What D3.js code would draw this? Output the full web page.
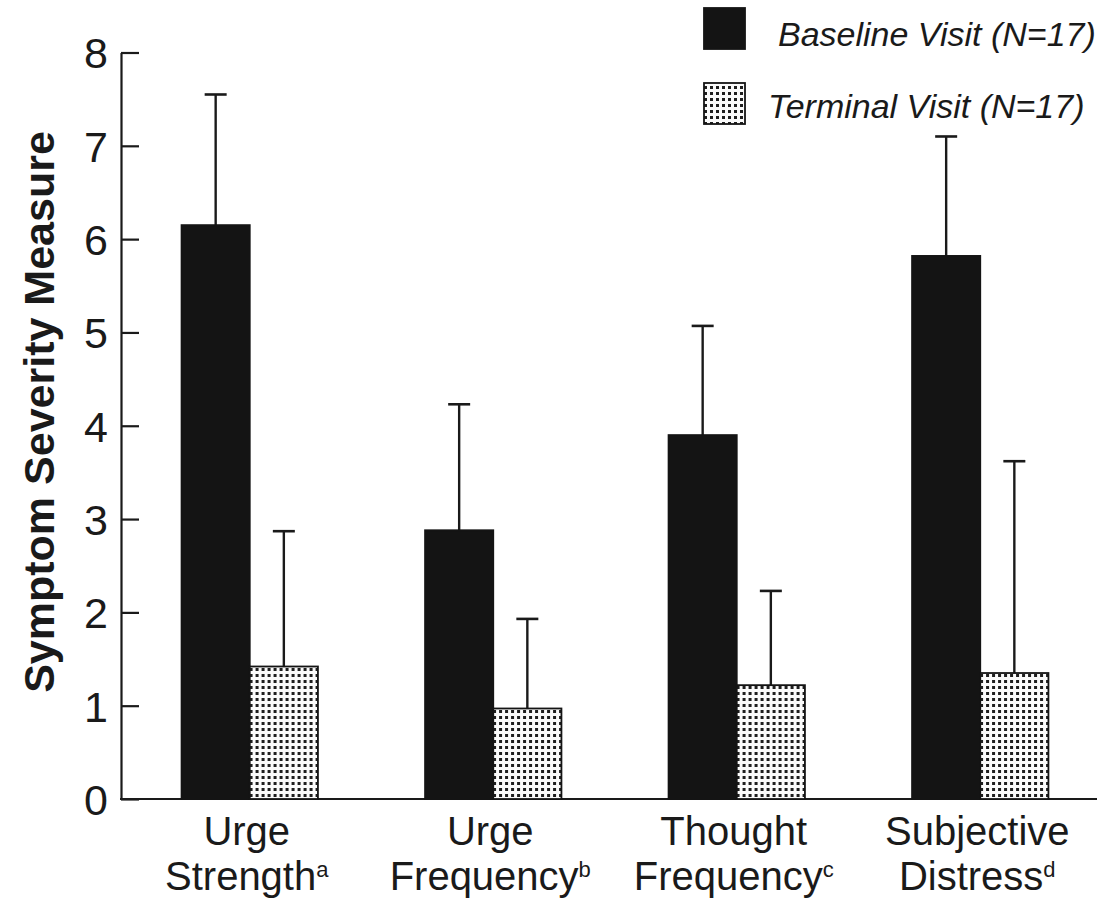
<!DOCTYPE html>
<html>
<head>
<meta charset="utf-8">
<script src="https://cdn.jsdelivr.net/npm/d3@7"></script>
<style>
  body { margin: 0; background: #fff; }
  svg { display: block; }
  text { font-family: "Liberation Sans", Arial, Helvetica, sans-serif; fill: #1a1a1a; }
</style>
</head>
<body>
<svg id="chart" width="1101" height="905"></svg>
<script>
// ---- data ----
const categories = ["Urge Strength", "Urge Frequency", "Thought Frequency", "Subjective Distress"];
const labelLine1 = ["Urge", "Urge", "Thought", "Subjective"];
const labelLine2 = ["Strength", "Frequency", "Frequency", "Distress"];
const labelSup = ["a", "b", "c", "d"];
const seriesNames = ["Baseline Visit (N=17)", "Terminal Visit (N=17)"];
const baselineMean = [6.15, 2.88, 3.90, 5.82];
const baselineUpper = [7.55, 4.23, 5.07, 7.10];
const terminalMean = [1.42, 0.97, 1.22, 1.35];
const terminalUpper = [2.87, 1.93, 2.23, 3.62];
const yTicks = [0, 1, 2, 3, 4, 5, 6, 7, 8];

const svg = d3.select("#chart");

// pattern for terminal visit
const defs = svg.append("defs");
const pat = defs.append("pattern")
  .attr("id", "dots").attr("patternUnits", "userSpaceOnUse")
  .attr("width", 6).attr("height", 6);
pat.append("rect").attr("width", 6).attr("height", 6).attr("fill", "#fbfbfb");
pat.append("rect").attr("x", 2).attr("y", 2).attr("width", 3).attr("height", 3)
  .attr("fill", "#1e1e1e").attr("shape-rendering", "crispEdges");

const x0 = d3.scaleBand().domain(categories).range([128, 1102]).paddingInner(0.44).paddingOuter(0.22);
const x1 = d3.scaleBand().domain(["baseline", "terminal"]).range([0, x0.bandwidth()]);
const y = d3.scaleLinear().domain([0, 8]).range([799, 52.5]);

// y axis
const yAxis = d3.axisLeft(y).tickValues(yTicks).tickSizeInner(-18).tickSizeOuter(0).tickPadding(13).tickFormat(d3.format("d"));
const gy = svg.append("g").attr("transform", "translate(121,0)").call(yAxis);
gy.select(".domain").attr("stroke", "#1a1a1a").attr("stroke-width", 2.2);
gy.selectAll(".tick line").attr("stroke", "#1a1a1a").attr("stroke-width", 2.2);
gy.selectAll(".tick text").attr("font-size", 43).attr("fill", "#1a1a1a")
  .attr("font-family", "'Liberation Sans', Arial, sans-serif").attr("dy", "0.36em");

// x baseline
svg.append("line").attr("x1", 120).attr("x2", 1097).attr("y1", y(0)).attr("y2", y(0))
  .attr("stroke", "#1a1a1a").attr("stroke-width", 2.2);

// bars
const rows = categories.map((c, i) => ({
  cat: c,
  vals: [
    { key: "baseline", mean: baselineMean[i], upper: baselineUpper[i] },
    { key: "terminal", mean: terminalMean[i], upper: terminalUpper[i] }
  ]
}));

const groups = svg.append("g").selectAll("g").data(rows).join("g")
  .attr("transform", d => `translate(${x0(d.cat)},0)`);

groups.selectAll("line.err").data(d => d.vals).join("line").attr("class", "err")
  .attr("x1", d => x1(d.key) + x1.bandwidth() / 2)
  .attr("x2", d => x1(d.key) + x1.bandwidth() / 2)
  .attr("y1", d => y(d.mean)).attr("y2", d => y(d.upper))
  .attr("stroke", "#1a1a1a").attr("stroke-width", 2.4);
groups.selectAll("line.cap").data(d => d.vals).join("line").attr("class", "cap")
  .attr("x1", d => x1(d.key) + x1.bandwidth() / 2 - 11)
  .attr("x2", d => x1(d.key) + x1.bandwidth() / 2 + 11)
  .attr("y1", d => y(d.upper)).attr("y2", d => y(d.upper))
  .attr("stroke", "#1a1a1a").attr("stroke-width", 2.6);

groups.selectAll("rect.bar").data(d => d.vals).join("rect").attr("class", "bar")
  .attr("x", d => x1(d.key))
  .attr("width", x1.bandwidth())
  .attr("y", d => y(d.mean))
  .attr("height", d => y(0) - y(d.mean))
  .attr("fill", d => d.key === "baseline" ? "#141414" : "url(#dots)")
  .attr("stroke", "#141414").attr("stroke-width", 1.8);

// x labels
categories.forEach((c, i) => {
  const cx = x0(c) + x0.bandwidth() / 2 - 3;
  svg.append("text").attr("x", cx).attr("y", 845).attr("text-anchor", "middle")
    .attr("font-size", 40).text(labelLine1[i]);
  const t = svg.append("text").attr("x", cx).attr("y", 890).attr("text-anchor", "middle")
    .attr("font-size", 40);
  t.append("tspan").text(labelLine2[i]);
  t.append("tspan").attr("font-size", 22).attr("dy", -13).text(labelSup[i]);
});

// y title
svg.append("text")
  .attr("transform", "translate(54,412) rotate(-90)")
  .attr("text-anchor", "middle").attr("font-size", 43).attr("font-weight", "bold")
  .text("Symptom Severity Measure");

// legend
const legend = [
  { name: seriesNames[0], fill: "#141414", y: 8, tx: 778, ty: 46 },
  { name: seriesNames[1], fill: "url(#dots)", y: 83, tx: 768, ty: 118 }
];
legend.forEach(l => {
  svg.append("rect").attr("x", 704).attr("y", l.y).attr("width", 41).attr("height", 41)
    .attr("fill", l.fill).attr("stroke", "#141414").attr("stroke-width", 1.8);
  svg.append("text").attr("x", l.tx).attr("y", l.ty).attr("font-size", 34)
    .attr("font-style", "italic").text(l.name);
});
</script>
</body>
</html>
